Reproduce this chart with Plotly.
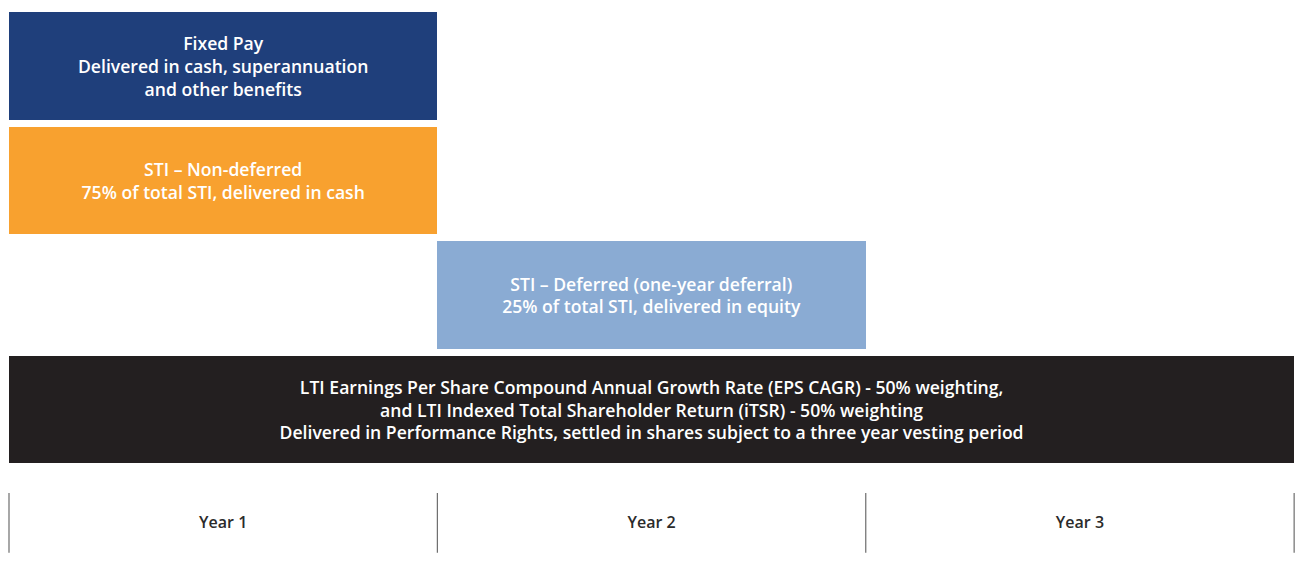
import plotly.graph_objects as go

# ---- data ----
components = [
    "Fixed Pay<br>Delivered in cash, superannuation<br>and other benefits",
    "STI – Non-deferred<br>75% of total STI, delivered in cash",
    "STI – Deferred (one-year deferral)<br>25% of total STI, delivered in equity",
    "LTI Earnings Per Share Compound Annual Growth Rate (EPS CAGR) - 50% weighting,<br>"
    "and LTI Indexed Total Shareholder Return (iTSR) - 50% weighting<br>"
    "Delivered in Performance Rights, settled in shares subject to a three year vesting period",
]
start_year = [0, 0, 1, 0]
duration_years = [1, 1, 1, 3]
colors = ["#1F3F7B", "#F8A12F", "#8AABD3", "#231F20"]
year_labels = ["Year 1", "Year 2", "Year 3"]
year_bounds = [0, 1, 2, 3]

rows = list(range(len(components)))
axis_row = len(components)

fig = go.Figure()
fig.add_trace(go.Bar(
    orientation="h",
    y=rows,
    x=duration_years,
    base=start_year,
    width=0.94,
    marker=dict(color=colors, line=dict(width=0)),
    text=components,
    textposition="inside",
    insidetextanchor="middle",
    textangle=0,
    constraintext="none",
    textfont=dict(family="Open Sans", size=17.6, color="white", weight=600),
    hoverinfo="skip",
))

# year separators
for b in year_bounds:
    fig.add_trace(go.Scatter(
        x=[b, b], y=[axis_row - 0.27, axis_row + 0.25],
        mode="lines", line=dict(color="#6d6d6d", width=1.2),
        hoverinfo="skip", showlegend=False,
    ))

fig.add_trace(go.Scatter(
    x=[i + 0.5 for i in range(len(year_labels))],
    y=[axis_row] * len(year_labels),
    mode="text",
    text=year_labels,
    textfont=dict(family="Open Sans", size=16, color="#2b2b2b", weight=600),
    hoverinfo="skip", showlegend=False,
))

fig.update_layout(
    width=1295, height=564,
    margin=dict(l=0, r=0, t=0, b=0),
    paper_bgcolor="white", plot_bgcolor="white",
    showlegend=False,
    xaxis=dict(range=[-0.021, 3.002], visible=False, fixedrange=True),
    yaxis=dict(range=[4.349, -0.576], visible=False, fixedrange=True),
    bargap=0,
)

fig.write_html(
    "out.html",
    config={"displayModeBar": False, "staticPlot": True},
    post_script="document.body.style.margin='0';document.body.style.overflow='hidden';",
)
